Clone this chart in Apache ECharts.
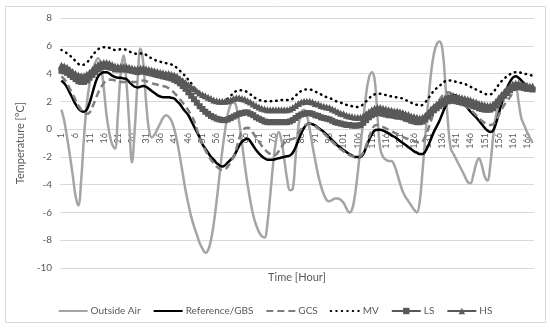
<!DOCTYPE html>
<html><head><meta charset="utf-8">
<script src="https://cdn.jsdelivr.net/npm/echarts@6/dist/echarts.min.js"></script>
<style>html,body{margin:0;padding:0;background:#fff}#c{width:550px;height:328px}</style>
</head><body><div id="c"></div>
<script>
const hours = Array.from({length:168},(_,i)=>String(i+1));
const seriesNames = ['Outside Air','Reference/GBS','GCS','MV','LS','HS'];
const outsideAir = [
1.4,0.6,-0.6,-1.9,-3.3,-4.8,-5.5,-3.7,-0.6,1.8,
3.3,4.2,4.8,5.1,4.6,3.0,1.0,-0.3,-1.1,-1.4,
1.0,4.0,5.3,3.5,0.5,-2.4,0.0,3.5,5.8,4.8,
2.0,0.0,-0.6,-0.4,0.0,0.4,0.8,1.0,0.9,0.6,
0.0,-0.9,-2.0,-3.2,-4.4,-5.4,-6.3,-7.0,-7.6,-8.2,
-8.6,-8.9,-8.7,-8.0,-6.8,-5.2,-3.4,-1.6,-0.1,1.1,
1.8,2.0,1.6,0.5,-1.0,-2.6,-4.0,-5.2,-6.2,-6.9,
-7.4,-7.7,-7.8,-6.8,-4.8,-2.6,-0.9,-0.2,-0.8,-2.2,
-3.6,-4.4,-4.3,-2.0,0.2,1.2,1.4,1.0,0.0,-1.2,
-2.3,-3.3,-4.1,-4.7,-5.1,-5.2,-5.1,-5.0,-5.0,-5.1,
-5.3,-5.7,-6.0,-5.8,-4.8,-3.2,-1.3,0.7,2.5,3.7,
4.1,3.6,1.0,-1.4,-2.0,-2.2,-2.3,-2.3,-2.6,-3.2,
-3.9,-4.5,-4.9,-5.2,-5.5,-5.8,-6.0,-5.2,-3.0,-0.5,
2.0,4.0,5.4,6.1,6.3,5.8,3.5,0.5,-1.4,-1.8,
-2.2,-2.6,-3.0,-3.4,-3.8,-3.9,-3.3,-2.5,-2.1,-2.6,
-3.4,-3.7,-2.6,-0.6,1.0,1.7,2.2,2.5,2.6,2.8,
3.0,3.0,2.0,0.8,0.3,-0.2,-0.6,-1.0];
const referenceGBS = [
3.5,3.3,3.0,2.6,2.2,1.8,1.5,1.3,1.25,1.4,
1.9,2.6,3.3,3.8,4.0,4.1,4.1,4.0,3.85,3.75,
3.7,3.7,3.65,3.6,3.4,3.2,3.05,3.0,3.05,3.1,
3.05,2.9,2.75,2.6,2.45,2.35,2.3,2.3,2.3,2.25,
2.2,2.0,1.8,1.5,1.25,1.0,0.6,0.2,-0.2,-0.6,
-1.1,-1.4,-1.7,-2.0,-2.2,-2.45,-2.6,-2.7,-2.6,-2.4,
-2.2,-2.0,-1.6,-1.2,-0.9,-0.75,-0.7,-0.9,-1.2,-1.5,
-1.75,-1.95,-2.1,-2.2,-2.2,-2.2,-2.15,-2.1,-2.05,-2.0,
-1.95,-1.9,-1.7,-1.3,-0.8,-0.3,0.1,0.35,0.4,0.35,
0.25,0.1,-0.05,-0.2,-0.4,-0.6,-0.8,-1.0,-1.2,-1.35,
-1.5,-1.65,-1.8,-1.9,-2.0,-2.0,-2.0,-1.8,-1.3,-0.8,
-0.4,-0.1,-0.05,-0.05,-0.1,-0.2,-0.3,-0.45,-0.55,-0.7,
-0.85,-1.0,-1.15,-1.3,-1.45,-1.6,-1.7,-1.8,-1.8,-1.6,
-1.2,-0.7,-0.2,0.2,0.6,1.1,1.6,2.0,2.35,2.45,
2.4,2.25,2.0,1.75,1.5,1.25,1.05,0.85,0.6,0.35,
0.1,-0.1,-0.2,-0.1,0.4,1.1,1.8,2.45,3.0,3.4,
3.7,3.8,3.7,3.5,3.3,3.1,3.0,2.9];
const gcs = [
3.8,3.6,3.3,2.9,2.5,2.1,1.7,1.4,1.2,1.1,
1.2,1.6,2.1,2.6,3.0,3.3,3.5,3.55,3.55,3.5,
3.45,3.4,3.4,3.4,3.4,3.4,3.4,3.4,3.45,3.5,
3.45,3.4,3.3,3.25,3.2,3.15,3.1,3.05,2.95,2.8,
2.6,2.4,2.15,1.9,1.65,1.35,1.0,0.6,0.0,-0.6,
-1.1,-1.5,-1.9,-2.2,-2.45,-2.7,-2.85,-2.95,-2.9,-2.7,
-2.35,-2.0,-1.4,-0.7,-0.15,0.05,0.1,0.0,-0.3,-0.6,
-0.9,-1.2,-1.45,-1.65,-1.8,-1.9,-1.85,-1.6,-1.3,-1.0,
-0.85,-0.75,-0.7,-0.6,-0.3,0.0,0.2,0.35,0.4,0.35,
0.2,0.05,-0.1,-0.3,-0.5,-0.7,-0.9,-1.1,-1.3,-1.45,
-1.6,-1.75,-1.85,-1.95,-2.0,-2.0,-1.95,-1.7,-1.2,-0.6,
-0.1,0.25,0.3,0.25,0.15,0.05,-0.05,-0.15,-0.25,-0.35,
-0.45,-0.55,-0.65,-0.72,-0.8,-0.87,-0.93,-1.0,-0.9,-0.5,
0.0,0.6,1.2,1.7,2.1,2.4,2.6,2.65,2.6,2.45,
2.3,2.1,1.9,1.7,1.55,1.4,1.2,1.0,0.8,0.6,
0.45,0.35,0.3,0.35,0.6,1.0,1.4,1.75,2.0,2.3,
2.65,2.95,3.15,3.2,3.15,3.1,3.05,3.0];
const mv = [
5.7,5.6,5.45,5.3,5.1,4.9,4.7,4.6,4.65,4.8,
5.0,5.3,5.55,5.75,5.85,5.9,5.9,5.85,5.75,5.7,
5.7,5.75,5.75,5.7,5.6,5.5,5.45,5.4,5.45,5.45,
5.35,5.2,5.1,5.0,4.9,4.85,4.8,4.75,4.7,4.65,
4.55,4.4,4.2,4.0,3.8,3.55,3.3,3.0,2.8,2.6,
2.45,2.3,2.2,2.1,2.05,2.0,1.95,1.95,2.05,2.2,
2.4,2.6,2.75,2.8,2.8,2.75,2.65,2.5,2.35,2.2,
2.1,2.05,2.0,2.0,2.0,2.05,2.05,2.05,2.1,2.1,
2.1,2.1,2.2,2.4,2.6,2.75,2.85,2.85,2.85,2.8,
2.7,2.6,2.5,2.4,2.3,2.25,2.15,2.05,1.95,1.9,
1.85,1.75,1.7,1.65,1.6,1.6,1.65,1.8,2.0,2.2,
2.4,2.5,2.55,2.55,2.5,2.45,2.4,2.35,2.3,2.3,
2.25,2.2,2.1,2.0,1.9,1.8,1.75,1.7,1.75,1.95,
2.2,2.5,2.75,2.95,3.1,3.3,3.45,3.5,3.5,3.45,
3.4,3.35,3.3,3.25,3.15,3.05,2.95,2.85,2.75,2.65,
2.55,2.5,2.5,2.65,2.9,3.2,3.45,3.65,3.8,3.95,
4.05,4.1,4.1,4.05,4.0,3.95,3.9,3.85];
const ls = [
4.2,4.15,4.05,3.9,3.75,3.6,3.45,3.4,3.4,3.5,
3.7,3.9,4.1,4.3,4.45,4.5,4.5,4.45,4.4,4.3,
4.3,4.3,4.3,4.3,4.25,4.2,4.15,4.1,4.15,4.15,
4.1,4.05,4.0,3.95,3.9,3.85,3.8,3.75,3.7,3.65,
3.55,3.45,3.3,3.1,2.9,2.65,2.4,2.15,1.9,1.65,
1.45,1.25,1.1,0.95,0.85,0.75,0.7,0.65,0.65,0.7,
0.8,0.9,1.0,1.1,1.15,1.2,1.2,1.1,1.0,0.85,
0.75,0.65,0.55,0.5,0.5,0.5,0.5,0.5,0.5,0.5,
0.5,0.55,0.65,0.8,0.95,1.05,1.1,1.15,1.15,1.1,
1.0,0.95,0.85,0.8,0.75,0.7,0.6,0.5,0.45,0.4,
0.35,0.3,0.3,0.25,0.25,0.25,0.3,0.45,0.65,0.85,
1.0,1.1,1.15,1.15,1.1,1.05,1.0,1.0,0.95,0.9,
0.9,0.85,0.75,0.7,0.6,0.55,0.5,0.5,0.55,0.7,
0.9,1.15,1.35,1.5,1.65,1.8,1.9,2.0,2.05,2.05,
2.0,1.95,1.9,1.85,1.8,1.75,1.65,1.6,1.5,1.45,
1.4,1.4,1.4,1.5,1.7,1.95,2.2,2.4,2.6,2.8,
2.95,3.0,3.05,3.0,2.95,2.9,2.9,2.85];
const hs = [
4.6,4.55,4.45,4.3,4.15,4.0,3.9,3.85,3.85,3.95,
4.1,4.3,4.5,4.65,4.75,4.8,4.8,4.75,4.65,4.55,
4.5,4.5,4.5,4.5,4.45,4.4,4.35,4.35,4.4,4.4,
4.35,4.3,4.25,4.2,4.15,4.1,4.05,4.0,4.0,3.95,
3.9,3.8,3.65,3.5,3.35,3.2,3.05,2.9,2.75,2.6,
2.5,2.4,2.3,2.2,2.1,2.05,2.0,2.0,2.0,2.05,
2.1,2.2,2.25,2.25,2.2,2.15,2.05,1.95,1.8,1.7,
1.6,1.5,1.45,1.4,1.4,1.4,1.4,1.4,1.4,1.4,
1.4,1.45,1.55,1.7,1.85,1.95,2.0,2.0,2.0,1.95,
1.85,1.8,1.7,1.65,1.6,1.55,1.45,1.35,1.25,1.15,
1.1,1.0,0.95,0.9,0.85,0.85,0.85,0.95,1.1,1.25,
1.4,1.5,1.55,1.55,1.5,1.45,1.4,1.35,1.3,1.3,
1.25,1.2,1.1,1.05,0.95,0.9,0.85,0.8,0.85,1.0,
1.2,1.45,1.65,1.8,1.95,2.1,2.25,2.35,2.4,2.4,
2.35,2.3,2.25,2.2,2.15,2.1,2.0,1.95,1.85,1.8,
1.75,1.7,1.7,1.8,2.0,2.25,2.5,2.7,2.9,3.1,
3.25,3.3,3.3,3.25,3.2,3.15,3.1,3.1];

const FONT = 'Lato, "Open Sans", sans-serif';
const TXT = '#595959';
const hideSym = {color:'rgba(0,0,0,0)', borderColor:'rgba(0,0,0,0)', borderWidth:0};
const chart = echarts.init(document.getElementById('c'), null, {renderer:'canvas'});
chart.setOption({
  animation:false,
  textStyle:{fontFamily:FONT},
  graphic:[
    {type:'rect', shape:{x:5.5,y:6.5,width:540,height:316}, style:{fill:'none', stroke:'#D9D9D9', lineWidth:1}, z:-1},
    {type:'text', x:297, y:272, style:{text:'Time [Hour]', fill:TXT, font:'11px '+FONT, textAlign:'center'}}
  ],
  grid:{left:60, right:16, top:18, bottom:60, containLabel:false},
  legend:{
    top:301, left:'center', itemWidth:29, itemHeight:8, itemGap:12,
    textStyle:{color:TXT, fontSize:10, fontFamily:FONT, padding:[0,0,0,-2]},
    data:[
      {name:seriesNames[0], itemStyle:hideSym},
      {name:seriesNames[1], itemStyle:hideSym},
      {name:seriesNames[2], itemStyle:hideSym},
      {name:seriesNames[3], itemStyle:hideSym},
      {name:seriesNames[4]},
      {name:seriesNames[5]}
    ]
  },
  xAxis:{
    type:'category', data:hours, boundaryGap:true, position:'bottom', offset:-139,
    axisLine:{onZero:false, lineStyle:{color:'#D9D9D9', width:1}},
    axisTick:{show:false},
    axisLabel:{interval:4, rotate:90, color:TXT, fontSize:9, margin:4, fontFamily:FONT},
    splitLine:{show:false}
  },
  yAxis:{
    type:'value', min:-10, max:8, interval:2,
    name:'Temperature [°C]', nameLocation:'middle', nameGap:30,
    nameTextStyle:{color:TXT, fontSize:11, fontFamily:FONT},
    axisLine:{show:false}, axisTick:{show:false},
    axisLabel:{color:TXT, fontSize:10, margin:8, fontFamily:FONT},
    splitLine:{lineStyle:{color:'#D9D9D9', width:1}}
  },
  series:[
    {name:seriesNames[0], type:'line', data:outsideAir, smooth:0.4, symbol:'none', lineStyle:{color:'#A5A5A5', width:2.5}, itemStyle:{color:'#A5A5A5'}},
    {name:seriesNames[1], type:'line', data:referenceGBS, smooth:0.4, symbol:'none', lineStyle:{color:'#000000', width:2.5}, itemStyle:{color:'#000000'}},
    {name:seriesNames[2], type:'line', data:gcs, smooth:0.4, symbol:'none', lineStyle:{color:'#7F7F7F', width:2.5, type:[7,4]}, itemStyle:{color:'#7F7F7F'}},
    {name:seriesNames[3], type:'line', data:mv, smooth:0.4, symbol:'none', lineStyle:{color:'#000000', width:2.5, type:[0.5,5], cap:'round'}, itemStyle:{color:'#000000'}},
    {name:seriesNames[4], type:'line', data:ls, smooth:0.4, symbol:'rect', symbolSize:6, showAllSymbol:true, lineStyle:{color:'#595959', width:2}, itemStyle:{color:'#595959'}},
    {name:seriesNames[5], type:'line', data:hs, smooth:0.4, symbol:'triangle', symbolSize:7, showAllSymbol:true, lineStyle:{color:'#595959', width:2}, itemStyle:{color:'#595959'}}
  ]
});
</script></body></html>
